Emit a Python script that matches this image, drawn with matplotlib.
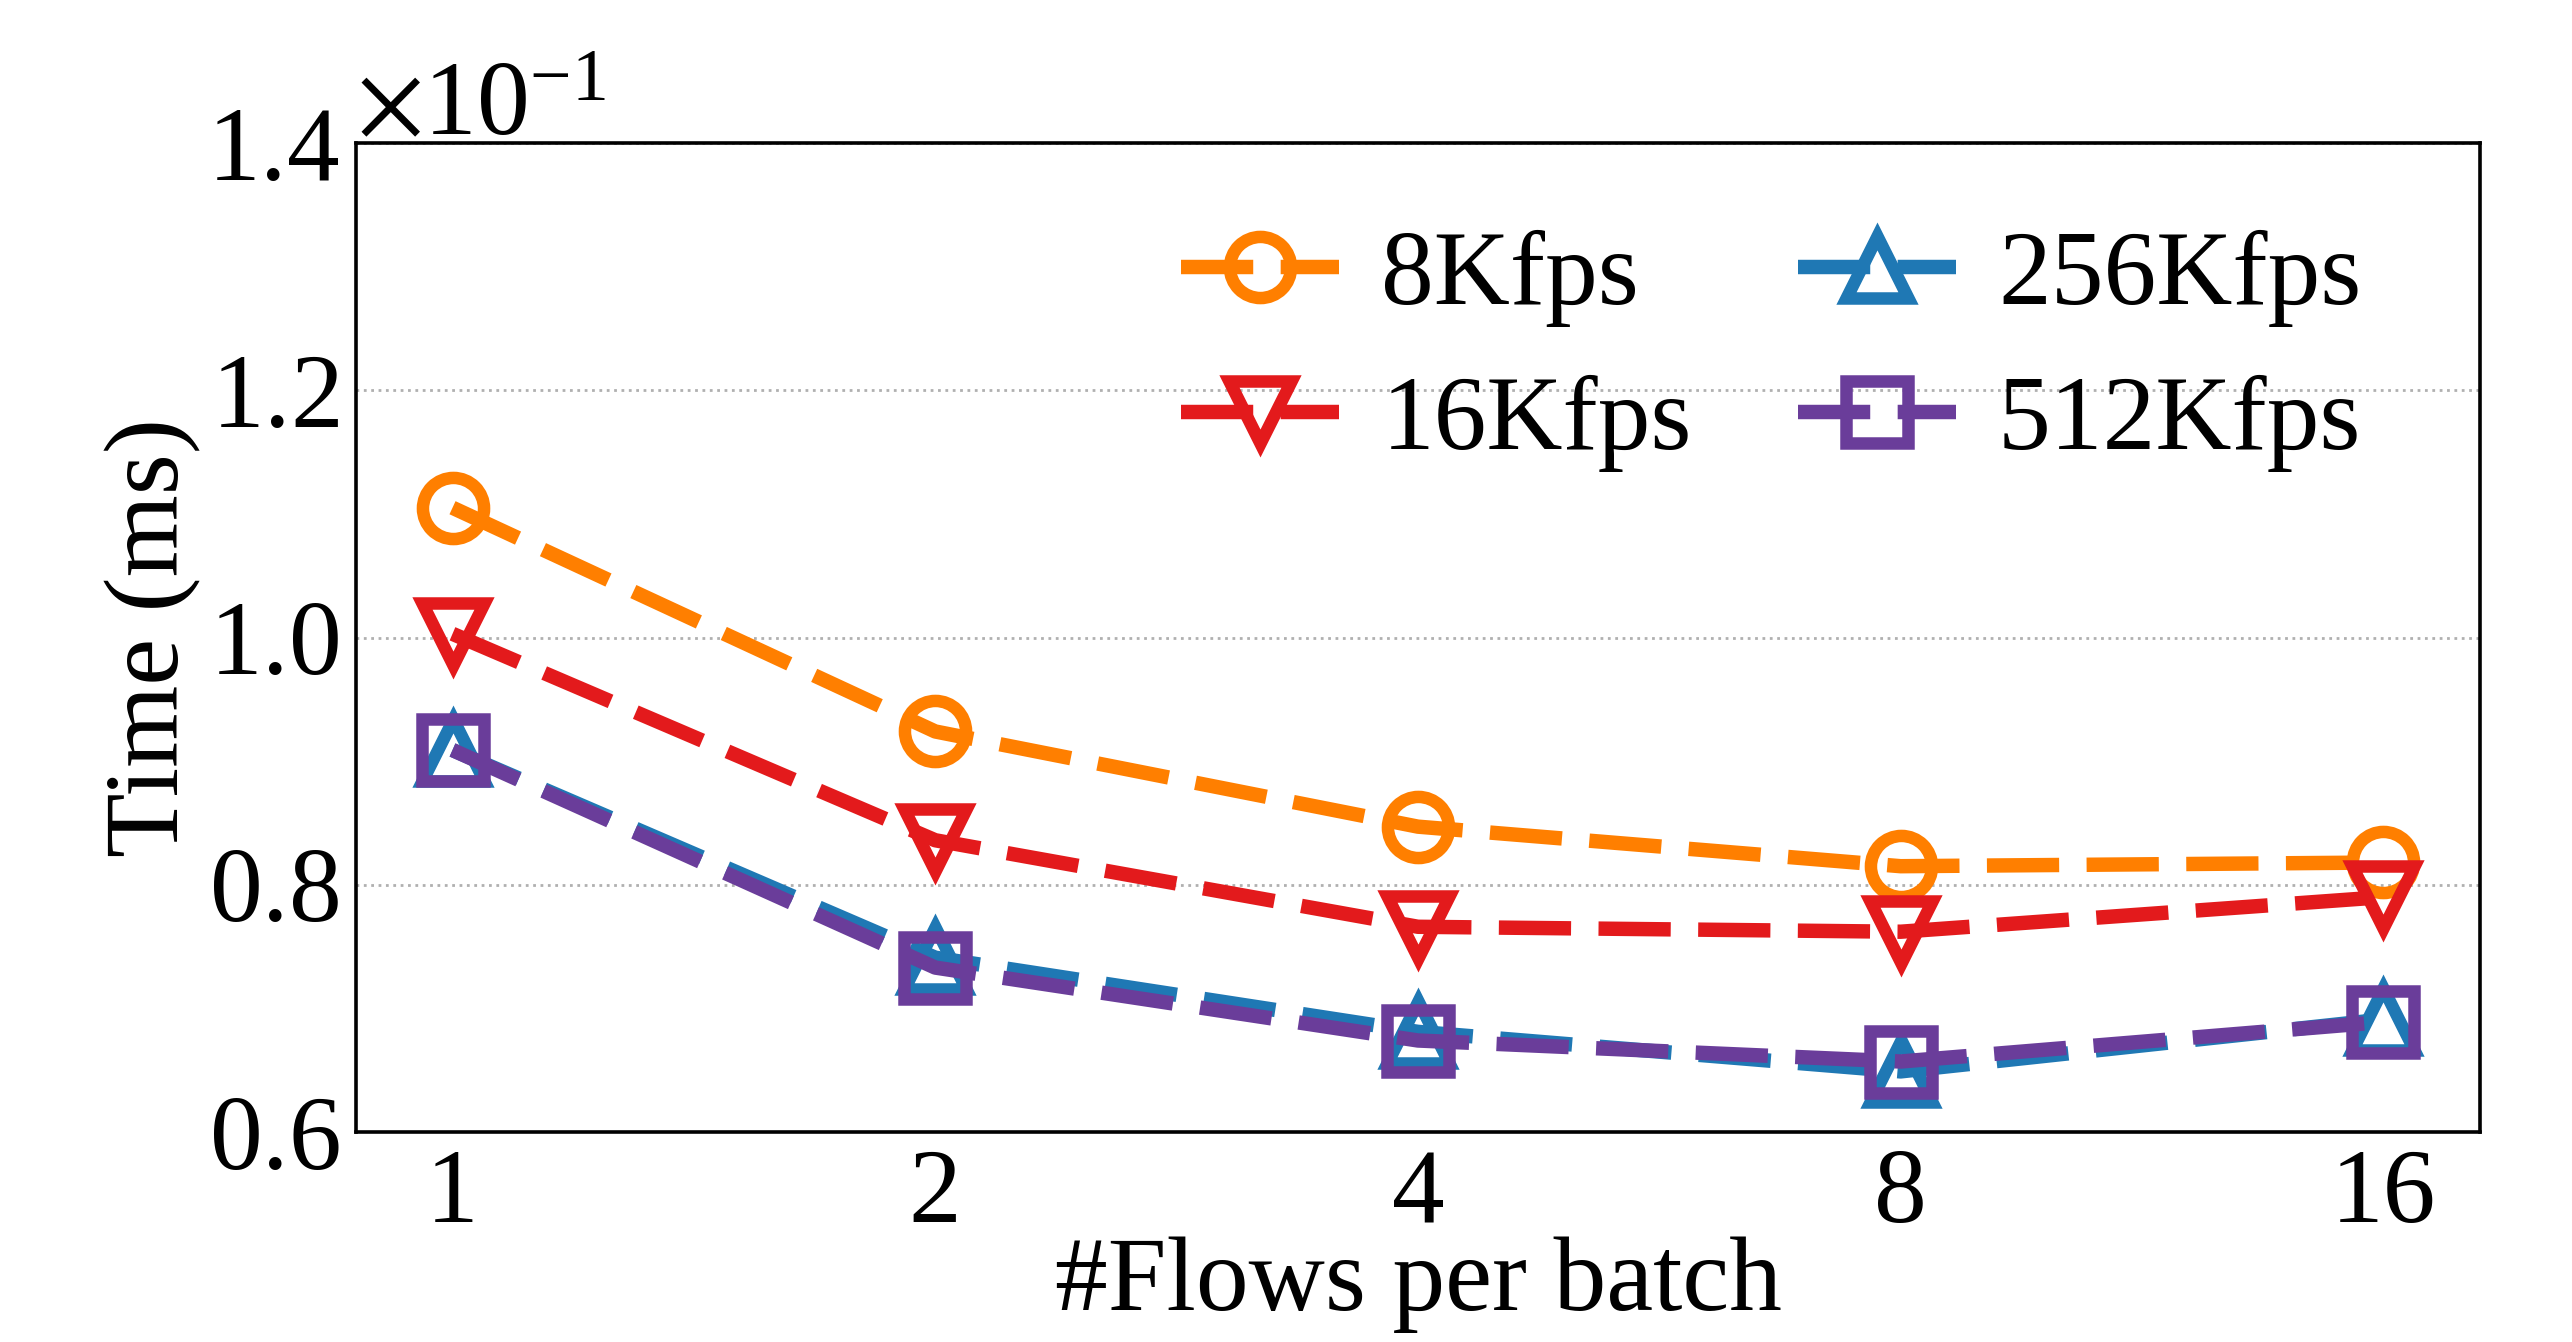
import matplotlib
matplotlib.use("Agg")
import matplotlib.pyplot as plt

plt.rcParams['font.family'] = ['Liberation Serif', 'DejaVu Serif']
plt.rcParams['mathtext.fontset'] = 'stix'

# batch sizes on the x axis, evenly spaced as categories
batch_labels = ['1', '2', '4', '8', '16']

# processing time (ms) per rate
t_8k = [0.1105, 0.0924, 0.0847, 0.0815, 0.0818]
t_16k = [0.1003, 0.0836, 0.0766, 0.0762, 0.0790]
t_256k = [0.0909, 0.0741, 0.0681, 0.0649, 0.0691]
t_512k = [0.0909, 0.0733, 0.0674, 0.0657, 0.0689]

series_names = ['8Kfps', '16Kfps', '256Kfps', '512Kfps']
colors = ['#ff7f00', '#e31a1c', '#1f78b4', '#6a3d9a']
markers = ['o', 'v', '^', 's']

FS = 38

fig = plt.figure(figsize=(12.86, 6.71), dpi=200)
ax = fig.add_axes([0.1384, 0.1565, 0.8258, 0.7369])

xs = list(range(len(batch_labels)))
for vals, name, c, m in zip([t_8k, t_16k, t_256k, t_512k], series_names, colors, markers):
    ax.plot(xs, vals, color=c, linestyle='--', dashes=(5.0, 1.9), linewidth=5.2,
            marker=m, markersize=22, markerfacecolor='none',
            markeredgecolor=c, markeredgewidth=4.5, label=name)

ax.set_xlim(-0.2, 4.2)
ax.set_ylim(0.06, 0.14)
ax.set_yticks([0.06, 0.08, 0.10, 0.12, 0.14])
ax.set_xticks(xs)
ax.set_xticklabels(batch_labels)
ax.ticklabel_format(style='sci', axis='y', scilimits=(0, 0), useMathText=True)
ax.yaxis.get_offset_text().set_fontsize(FS)

ax.tick_params(axis='both', length=0, labelsize=FS, pad=6)
ax.grid(axis='y', linestyle=':', color='#b0b0b0', linewidth=1.0)
ax.set_axisbelow(True)
for sp in ax.spines.values():
    sp.set_linewidth(1.3)

ax.set_xlabel('#Flows per batch', fontsize=FS, labelpad=-3)
ax.set_ylabel('Time (ms)', fontsize=FS, labelpad=2)

ax.legend(ncol=2, loc='upper right', frameon=False, fontsize=FS,
          handlelength=1.5, columnspacing=1.0, handletextpad=0.4,
          labelspacing=0.45, bbox_to_anchor=(0.989, 1.008))

fig.savefig('out.png', dpi=200)
